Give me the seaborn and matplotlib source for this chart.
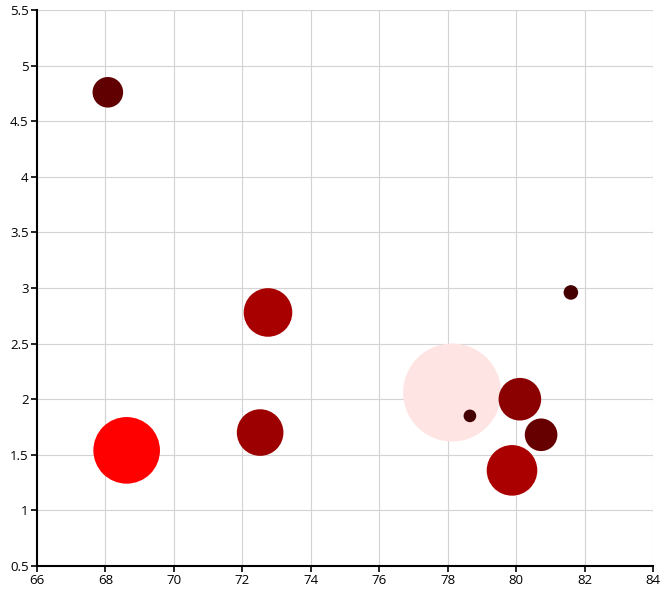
import numpy as np
import pandas as pd
import seaborn as sns
from matplotlib import pyplot as plt

# Bubble data (x, y, bubble size ~ area, colour)
x_vals = [78.13, 68.07, 68.62, 72.52, 72.75, 78.65, 80.11, 80.73, 79.88, 81.60]
y_vals = [2.06, 4.76, 1.54, 1.70, 2.78, 1.85, 2.00, 1.68, 1.36, 2.96]
bubble_size = [2401, 234, 1109, 543, 590, 40, 454, 266, 640, 53]
colors = ['#ffe4e4', '#600000', '#ff0000', '#9c0000', '#a80000',
          '#440000', '#8b0000', '#660000', '#aa0000', '#440000']

x_ticks = [66, 68, 70, 72, 74, 76, 78, 80, 82, 84]
y_ticks = [0.5, 1, 1.5, 2, 2.5, 3, 3.5, 4, 4.5, 5, 5.5]

df = pd.DataFrame({'x': x_vals, 'y': y_vals, 'size': bubble_size,
                   'id': [str(i) for i in range(len(x_vals))]})

sns.set_style('white')
plt.rcParams['font.family'] = ['Open Sans', 'DejaVu Sans']

fig = plt.figure(figsize=(6.67, 6.02), dpi=100)
ax = fig.add_axes([37 / 667, 1 - 566 / 602, 616 / 667, 556 / 602])

# radius in px -> area in pt^2 : (2 * r * 0.72)^2, size value is r^2
max_area = (2 * 0.72) ** 2 * max(bubble_size)
sns.scatterplot(data=df, x='x', y='y', hue='id', palette=colors,
                size='size', sizes=(0, max_area), size_norm=(0, max(bubble_size)),
                linewidth=0, alpha=1, legend=False, ax=ax, zorder=3)

ax.set_xlim(66, 84)
ax.set_ylim(0.5, 5.5)
ax.set_xticks(x_ticks)
ax.set_yticks(y_ticks)
ax.set_xticklabels([str(t) for t in x_ticks])
ax.set_yticklabels([f'{t:g}' for t in y_ticks])
ax.set_xlabel('')
ax.set_ylabel('')

ax.grid(True, color='#d3d3d3', linewidth=0.8)
ax.set_axisbelow(True)
for s in ['top', 'right']:
    ax.spines[s].set_visible(False)
for s in ['left', 'bottom']:
    ax.spines[s].set_color('black')
    ax.spines[s].set_linewidth(1.5)
ax.tick_params(axis='both', direction='out', length=4, width=1.2, color='black',
               labelcolor='black', labelsize=9.5, pad=2, left=True, bottom=True)

plt.savefig('out.png', dpi=100)
